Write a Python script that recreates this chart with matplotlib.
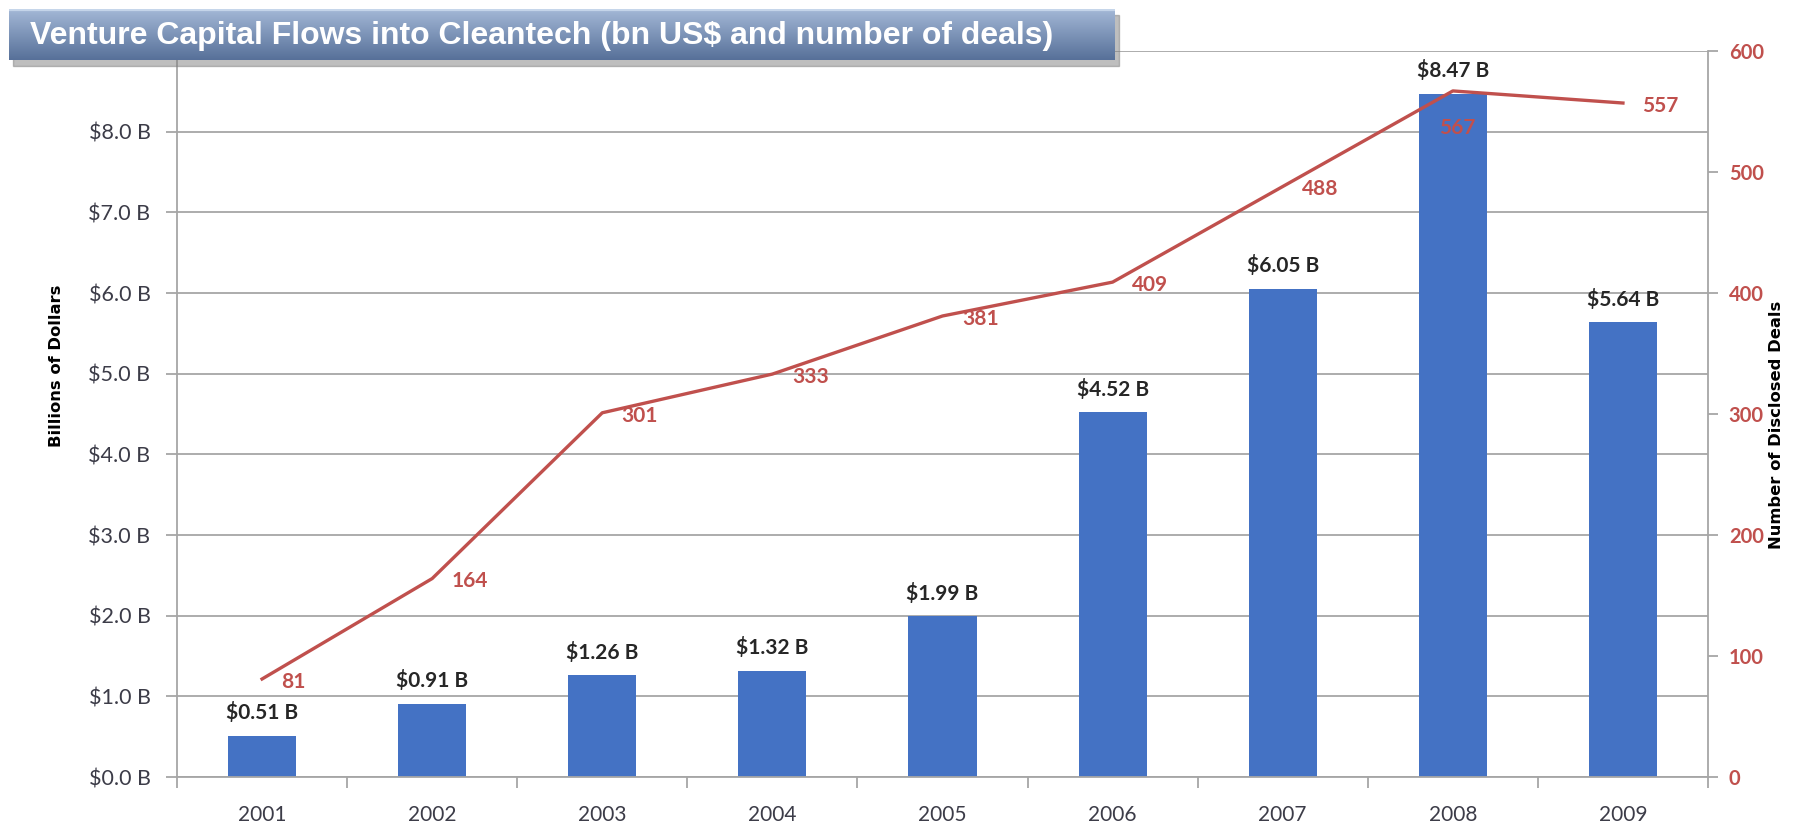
import numpy as np
import matplotlib.pyplot as plt
from matplotlib.patches import Rectangle

# data
years = ['2001', '2002', '2003', '2004', '2005', '2006', '2007', '2008', '2009']
dollars = [0.51, 0.91, 1.26, 1.32, 1.99, 4.52, 6.05, 8.47, 5.64]
deals = [81, 164, 301, 333, 381, 409, 488, 567, 557]
title = 'Venture Capital Flows into Cleantech (bn US$ and number of deals)'

bar_col = '#4472C4'
line_col = '#C0504D'
grid_col = '#A6A6A6'
txt_col = '#3C3C48'

plt.rcParams['font.family'] = ['Lato', 'DejaVu Sans']

W, H = 1818, 827
fig = plt.figure(figsize=(W / 100, H / 100), dpi=100)
ax = fig.add_axes([177 / W, 1 - 777 / H, (1708 - 177) / W, (777 - 51) / H])

x = np.arange(len(years))
bars = ax.bar(x, dollars, width=0.4, color=bar_col, zorder=2)
ax.set_xlim(-0.5, len(years) - 0.5)
ax.set_ylim(0, 9)
ax.set_yticks(range(10))
ax.set_yticklabels(['$%.1f B' % v for v in range(9)] + [''])
ax.grid(axis='y', color=grid_col, lw=1.3, zorder=0)
ax.set_axisbelow(True)

for b, v in zip(bars, dollars):
    ax.annotate('$%.2f B' % v, (b.get_x() + b.get_width() / 2, v),
                xytext=(0, 9), textcoords='offset points', ha='center', va='bottom',
                fontsize=15, fontweight='bold', color='#262626')

ax.set_xticks(x)
ax.set_xticklabels(years)
ax.set_xticks(np.arange(-0.5, len(years)), minor=True)
ax.tick_params(axis='x', which='major', length=0, pad=20, labelsize=15, labelcolor=txt_col)
ax.tick_params(axis='x', which='minor', length=8, width=1.3, color=grid_col, direction='out')
ax.tick_params(axis='y', length=8, width=1.3, color=grid_col, labelsize=15.5,
               labelcolor=txt_col, pad=11)

for s in ['top', 'right']:
    ax.spines[s].set_visible(False)
for s in ['left', 'bottom']:
    ax.spines[s].set_color(grid_col)
    ax.spines[s].set_linewidth(1.3)

ax.set_ylabel('Billions of Dollars', fontsize=11.8, fontweight='bold', color='black',
              family=['Liberation Sans Narrow', 'DejaVu Sans'])
ax.yaxis.set_label_coords(-0.074, 0.566)

ax2 = ax.twinx()
ax2.plot(x, deals, color=line_col, lw=2.4, zorder=3)
ax2.set_ylim(0, 600)
ax2.set_yticks(range(0, 601, 100))
ax2.tick_params(axis='y', length=7, width=1.3, color=grid_col, labelsize=14.5,
                labelcolor=line_col, pad=8)
for lbl in ax2.get_yticklabels():
    lbl.set_fontweight('bold')
for s in ['top', 'left', 'bottom']:
    ax2.spines[s].set_visible(False)
ax2.spines['right'].set_color(grid_col)
ax2.spines['right'].set_linewidth(1.3)
ax2.set_ylabel('Number of Disclosed Deals', fontsize=11.8, fontweight='bold', color='black',
               rotation=90, family=['Liberation Sans Narrow', 'DejaVu Sans'])
ax2.yaxis.set_label_coords(1.04, 0.485)

for i, v in enumerate(deals):
    if v == max(deals):
        ax2.annotate(str(v), (x[i], v), xytext=(3, -27), textcoords='offset points',
                     ha='center', va='center', fontsize=15, fontweight='bold', color=line_col)
    else:
        ax2.annotate(str(v), (x[i], v), xytext=(14, -2), textcoords='offset points',
                     ha='left', va='center', fontsize=15, fontweight='bold', color=line_col)

# title box
shadow = Rectangle((13 / W, 1 - 66 / H), (1115 - 9) / W, 51 / H, transform=fig.transFigure,
                   color='#7F7F7F', alpha=0.5, zorder=5)
fig.patches.append(shadow)
tax = fig.add_axes([9 / W, 1 - 60 / H, (1115 - 9) / W, 51 / H], zorder=10)
grad = np.linspace(0, 1, 100).reshape(-1, 1)
top = np.array([0.64, 0.72, 0.84])
bot = np.array([0.34, 0.44, 0.60])
img = top + (bot - top) * grad[:, :, None]
img[:4] = [0.78, 0.84, 0.92]
tax.imshow(img, aspect='auto', extent=[0, 1, 0, 1])
tax.set_xlim(0, 1)
tax.set_ylim(0, 1)
tax.axis('off')
tax.text(0.019, 0.48, title, ha='left', va='center', fontsize=23, fontweight='bold',
         color='white', family=['Liberation Sans', 'DejaVu Sans'])

fig.savefig('out.png', dpi=100)
